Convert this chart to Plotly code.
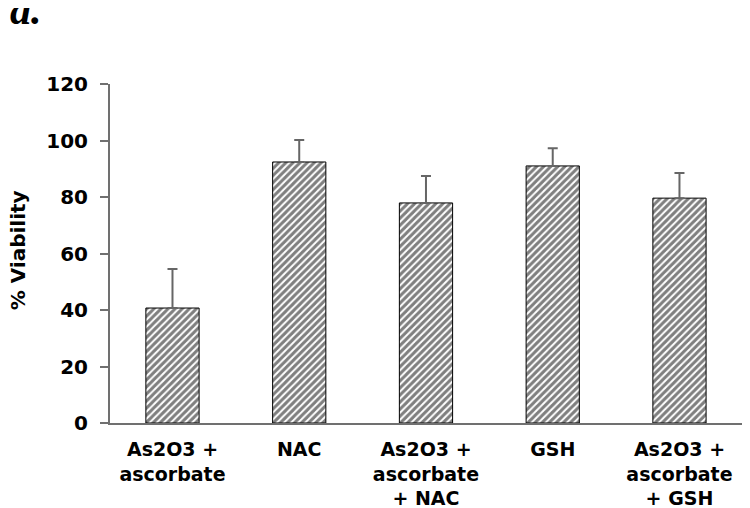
import plotly.graph_objects as go

categories = ["As2O3 +<br>ascorbate", "NAC", "As2O3 +<br>ascorbate<br>+ NAC", "GSH", "As2O3 +<br>ascorbate<br>+ GSH"]
viability = [40.7, 92.4, 77.9, 91.0, 79.6]
error_up = [13.8, 7.8, 9.5, 6.3, 8.9]
y_ticks = [0, 20, 40, 60, 80, 100, 120]

FONT = "DejaVu Sans, Liberation Sans, Arial"

fig = go.Figure()
fig.add_trace(go.Bar(
    x=list(range(len(categories))),
    y=viability,
    width=0.42,
    marker=dict(
        color="white",
        line=dict(color="black", width=1),
        pattern=dict(shape="/", fgcolor="black", bgcolor="white", size=5, solidity=0.6),
    ),
    error_y=dict(type="data", array=error_up, arrayminus=[0]*len(error_up), symmetric=False,
                 color="#666666", thickness=2, width=5),
    showlegend=False,
))

fig.update_layout(
    width=742, height=500,
    margin=dict(l=102, r=5, t=76, b=85, autoexpand=False),
    paper_bgcolor="white", plot_bgcolor="white",
    font=dict(family=FONT, color="black"),
    xaxis=dict(
        range=[-0.493, 4.517],
        tickmode="array", tickvals=list(range(len(categories))),
        ticktext=[f"<b>{c}</b>" for c in categories],
        tickfont=dict(family=FONT, size=19, color="black"),
        ticks="outside", ticklen=8, tickcolor="rgba(0,0,0,0)",
        showline=True, linecolor="#707070", linewidth=2,
        showgrid=False, zeroline=False, automargin=False,
    ),
    yaxis=dict(
        range=[0, 120],
        tickmode="array", tickvals=y_ticks, ticktext=[f"<b>{t}</b>" for t in y_ticks],
        tickfont=dict(family=FONT, size=20, color="black"),
        ticks="outside", ticklen=8, tickwidth=2, tickcolor="#707070",
        ticklabelstandoff=8,
        showline=True, linecolor="#707070", linewidth=2,
        showgrid=False, zeroline=False, automargin=False,
    ),
    annotations=[
        dict(
            text="<b>% Viability</b>", xref="paper", yref="paper", x=-0.1445, y=0.51,
            xanchor="center", yanchor="middle", textangle=-90, showarrow=False,
            font=dict(family=FONT, size=20, color="black"),
        ),
        dict(
            text="<b><i>a.</i></b>", xref="paper", yref="paper", x=-0.1606, y=1.146,
            xanchor="left", yanchor="bottom", showarrow=False,
            font=dict(family="Liberation Serif, Times New Roman, serif", size=42, color="black"),
        ),
    ],
)

fig.write_html("out.html")
